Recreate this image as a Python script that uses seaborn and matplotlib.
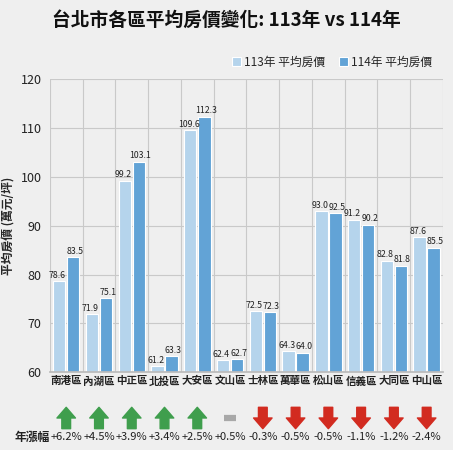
import pandas as pd
import seaborn as sns
import matplotlib.pyplot as plt

districts = ["南港區", "內湖區", "中正區", "北投區", "大安區", "文山區",
             "士林區", "萬華區", "松山區", "信義區", "大同區", "中山區"]
price_113 = [78.6, 71.9, 99.2, 61.2, 109.6, 62.4, 72.5, 64.3, 93.0, 91.2, 82.8, 87.6]
price_114 = [83.5, 75.1, 103.1, 63.3, 112.3, 62.7, 72.3, 64.0, 92.5, 90.2, 81.8, 85.5]
growth_labels = ["+6.2%", "+4.5%", "+3.9%", "+3.4%", "+2.5%", "+0.5%",
                 "-0.3%", "-0.5%", "-0.5%", "-1.1%", "-1.2%", "-2.4%"]
trend = ["up", "up", "up", "up", "up", "flat",
         "down", "down", "down", "down", "down", "down"]
series_names = ["113年 平均房價", "114年 平均房價"]

BG = "#efefef"
sns.set_theme(style="whitegrid")
plt.rcParams["font.family"] = ["Noto Sans CJK TC", "DejaVu Sans"]

df = pd.DataFrame({
    "district": districts * 2,
    "price": price_113 + price_114,
    "year": [series_names[0]] * len(districts) + [series_names[1]] * len(districts),
})

fig = plt.figure(figsize=(4.53, 4.50), dpi=100, facecolor=BG)
ax = fig.add_axes([0.110, 0.173, 0.868, 0.651])
ax.set_facecolor(BG)

sns.barplot(data=df, x="district", y="price", hue="year", order=districts,
            hue_order=series_names, palette=["#b5d4ec", "#62a3d6"], saturation=1,
            width=0.86, gap=0.12, edgecolor="white", linewidth=0.8, ax=ax)

# value labels; nudge the pairs apart a little so neighbours don't collide
for k, cont in enumerate(ax.containers):
    labels = ax.bar_label(cont, fmt="%.1f", fontsize=6.3, padding=1, color="#222222")
    for lab in labels:
        lab.xyann = (-1.2 if k == 0 else 1.2, 1)

ax.set_ylim(60, 120)
ax.set_xlim(-0.5, len(districts) - 0.5)
ax.set_yticks(range(60, 121, 10))
ax.grid(False)
ax.yaxis.grid(True, color="#c9c9c9", linewidth=0.8)
for i in range(len(districts) + 1):
    ax.axvline(i - 0.5, color="#c9c9c9", linewidth=0.8, zorder=0)
ax.set_axisbelow(True)
for s in ["top", "right", "left"]:
    ax.spines[s].set_visible(False)
ax.spines["bottom"].set_color("#bbbbbb")
ax.tick_params(axis="y", labelsize=9, length=0, pad=6, labelcolor="#222222")
ax.tick_params(axis="x", labelsize=7.6, length=0, pad=3, labelcolor="#222222")
for lbl in ax.get_xticklabels():
    lbl.set_fontweight("bold")
ax.set_xlabel("")
ax.set_ylabel("平均房價 (萬元/坪)", fontsize=8.5, fontweight="bold", labelpad=4)

ax.legend(loc="lower right", bbox_to_anchor=(1.0, 1.0), ncol=2, frameon=False,
          fontsize=8.5, handlelength=0.7, handleheight=0.7, handletextpad=0.3,
          columnspacing=1.2, borderaxespad=0.5)

fig.text(0.5, 0.955, "台北市各區平均房價變化: 113年 vs 114年", ha="center", va="center",
         fontsize=13.5, fontweight="bold", color="#111111")

# trend arrows and growth labels under the axis
tr = ax.get_xaxis_transform()
arrow_style = "simple,head_length=0.55,head_width=0.95,tail_width=0.45"
for i, (t, g) in enumerate(zip(trend, growth_labels)):
    if t == "up":
        ax.annotate("", xy=(i, -0.12), xytext=(i, -0.193), xycoords=tr, textcoords=tr,
                    arrowprops=dict(arrowstyle=arrow_style, color="#3f9e4d",
                                    mutation_scale=14, shrinkA=0, shrinkB=0),
                    annotation_clip=False)
    elif t == "down":
        ax.annotate("", xy=(i, -0.193), xytext=(i, -0.12), xycoords=tr, textcoords=tr,
                    arrowprops=dict(arrowstyle=arrow_style, color="#d22b20",
                                    mutation_scale=14, shrinkA=0, shrinkB=0),
                    annotation_clip=False)
    else:
        ax.plot([i - 0.17, i + 0.17], [-0.157, -0.157], transform=tr, color="#a8a8a8",
                linewidth=4.5, solid_capstyle="butt", clip_on=False)
    ax.text(i, -0.222, g, transform=tr, ha="center", va="center", fontsize=8,
            color="#222222")

ax.text(-0.5, -0.222, "年漲幅", transform=tr, ha="right", va="center", fontsize=8.5,
        fontweight="bold", color="#222222")

fig.savefig("out.png", dpi=100, facecolor=BG)
